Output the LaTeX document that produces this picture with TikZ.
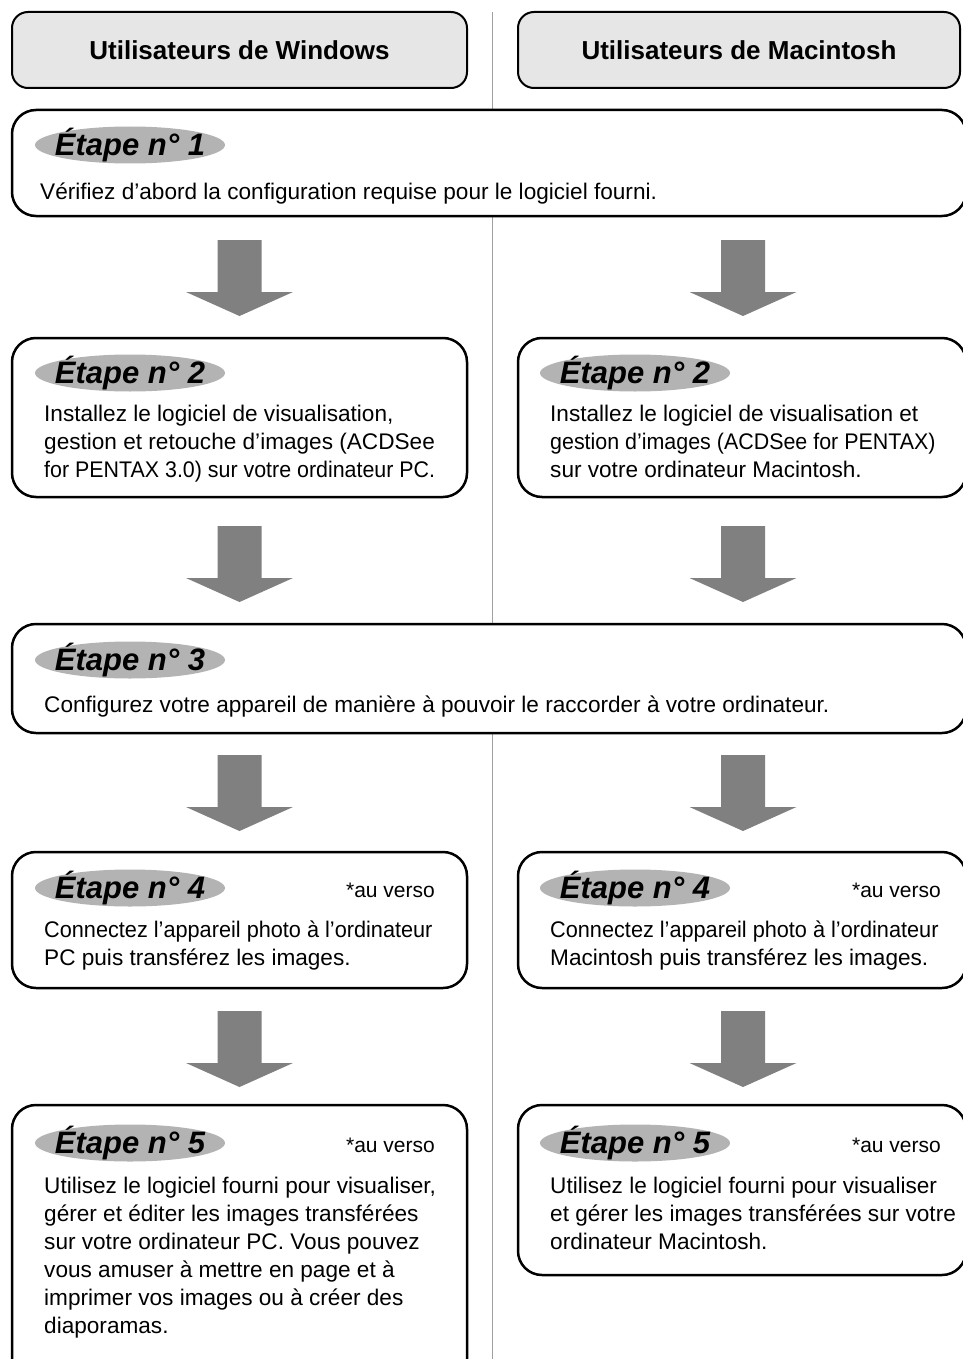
\documentclass[tikz,border=0pt]{standalone}
\usepackage{fontspec}
\setmainfont{Liberation Sans}
\usetikzlibrary{shapes.geometric}
\definecolor{headgray}{HTML}{E6E6E6}
\definecolor{labgray}{HTML}{B3B3B3}
\definecolor{arrgray}{HTML}{808080}
\definecolor{divgray}{HTML}{A0A0A0}
\begin{document}
\begin{tikzpicture}[x=1pt,y=-1pt,
  headbox/.style={draw=black, line width=2pt, fill=headgray, rounded corners=16pt, inner sep=0pt},
  stepbox/.style={draw=black, line width=2.5pt, fill=white, rounded corners=24pt, inner sep=0pt},
  headtext/.style={font=\fontsize{26}{30}\selectfont\bfseries},
  labelbg/.style={ellipse, fill=labgray, minimum width=190pt, minimum height=37pt, inner sep=0pt},
  labeltext/.style={inner sep=0pt, font=\fontsize{31}{34}\selectfont\bfseries\itshape},
  body/.style={anchor=north west, align=left, inner sep=0pt,
     font=\fontsize{22.6}{28}\selectfont, execute at begin node={\rule{0pt}{20pt}}},
  verso/.style={anchor=base east, inner sep=0pt, font=\fontsize{21}{24}\selectfont},
  downarr/.pic={\fill[arrgray] (-22,0) -- (22,0) -- (22,52) -- (53.5,52) -- (0,76) -- (-53.5,52) -- (-22,52) -- cycle;}
]
\useasboundingbox (0,0) rectangle (962,1359);
\fill[white] (0,0) rectangle (962,1359);

% divider
\coordinate (dtop) at (492,12);
\coordinate (dbot) at (492,1359);
\draw[divgray, line width=1pt] (dtop) -- (dbot);

% headers
\node[headbox, minimum width=455pt, minimum height=76pt] (hw) at (239.5,50) {};
\node[headtext] at (hw) {Utilisateurs de Windows};
\node[headbox, minimum width=442pt, minimum height=76pt] (hm) at (739,50) {};
\node[headtext] at (hm) {Utilisateurs de Macintosh};

% step 1
\node[stepbox, minimum width=954pt, minimum height=106pt] (s1) at (489,163) {};
\node[labelbg] (l1) at (130,145) {};
\node[labeltext] at (l1) {\'Etape n° 1};
\node[body] (t1) at (40,179) {Vérifiez d’abord la configuration requise pour le logiciel fourni.};

\pic at (239.5,240) {downarr};
\pic at (743,240) {downarr};

% step 2
\node[stepbox, minimum width=455pt, minimum height=159pt] (s2w) at (239.5,417.5) {};
\node[labelbg] (l2w) at (130,373) {};
\node[labeltext] at (l2w) {\'Etape n° 2};
\node[body] (t2w) at (44,405) {Installez le logiciel de visualisation,\\gestion et retouche d’images (ACDSee\\\scalebox{0.947}[1]{for PENTAX 3.0) sur votre ordinateur PC.}};
\node[stepbox, minimum width=448pt, minimum height=159pt] (s2m) at (742,417.5) {};
\node[labelbg] (l2m) at (635,373) {};
\node[labeltext] at (l2m) {\'Etape n° 2};
\node[body] (t2m) at (550,405) {Installez le logiciel de visualisation et\\\scalebox{0.948}[1]{gestion d’images (ACDSee for PENTAX)}\\sur votre ordinateur Macintosh.};

\pic at (239.5,526) {downarr};
\pic at (743,526) {downarr};

% step 3
\node[stepbox, minimum width=954pt, minimum height=109pt] (s3) at (489,678.5) {};
\node[labelbg] (l3) at (130,660) {};
\node[labeltext] at (l3) {\'Etape n° 3};
\node[body] (t3) at (44,692) {Configurez votre appareil de manière à pouvoir le raccorder à votre ordinateur.};

\pic at (239.5,755) {downarr};
\pic at (743,755) {downarr};

% step 4
\node[stepbox, minimum width=455pt, minimum height=136pt] (s4w) at (239.5,920) {};
\node[labelbg] (l4w) at (130,888) {};
\node[labeltext] at (l4w) {\'Etape n° 4};
\node[verso] (v4w) at (435,897) {*au verso};
\node[body] (t4w) at (44,921) {\scalebox{0.96}[1]{Connectez l’appareil photo à l’ordinateur}\\PC puis transférez les images.};
\node[stepbox, minimum width=448pt, minimum height=136pt] (s4m) at (742,920) {};
\node[labelbg] (l4m) at (635,888) {};
\node[labeltext] at (l4m) {\'Etape n° 4};
\node[verso] (v4m) at (941,897) {*au verso};
\node[body] (t4m) at (550,921) {\scalebox{0.96}[1]{Connectez l’appareil photo à l’ordinateur}\\Macintosh puis transférez les images.};

\pic at (239.5,1011) {downarr};
\pic at (743,1011) {downarr};

% step 5
\node[stepbox, minimum width=455pt, minimum height=295pt] (s5w) at (239.5,1252.5) {};
\node[labelbg] (l5w) at (130,1143) {};
\node[labeltext] at (l5w) {\'Etape n° 5};
\node[verso] (v5w) at (435,1152) {*au verso};
\node[body] (t5w) at (44,1177) {Utilisez le logiciel fourni pour visualiser,\\gérer et éditer les images transférées\\sur votre ordinateur PC. Vous pouvez\\vous amuser à mettre en page et à\\imprimer vos images ou à créer des\\diaporamas.};
\node[stepbox, minimum width=448pt, minimum height=170pt] (s5m) at (742,1190) {};
\node[labelbg] (l5m) at (635,1143) {};
\node[labeltext] at (l5m) {\'Etape n° 5};
\node[verso] (v5m) at (941,1152) {*au verso};
\node[body] (t5m) at (550,1177) {Utilisez le logiciel fourni pour visualiser\\et gérer les images transférées sur votre\\ordinateur Macintosh.};
\end{tikzpicture}
\end{document}
